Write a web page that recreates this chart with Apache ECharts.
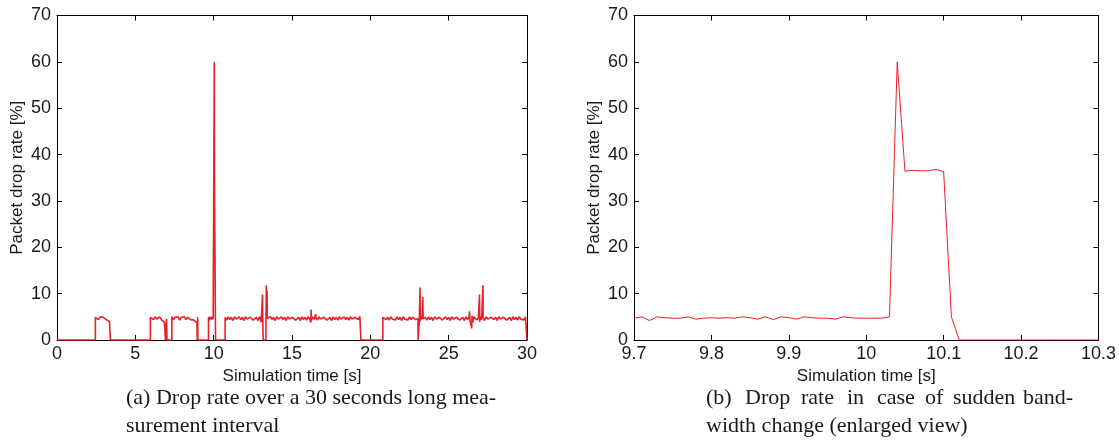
<!DOCTYPE html>
<html>
<head>
<meta charset="utf-8">
<script src="https://cdn.jsdelivr.net/npm/echarts@6/dist/echarts.min.js"></script>
<style>
  html, body { margin: 0; padding: 0; background: #fff; }
  #main { width: 1119px; height: 448px; }
</style>
</head>
<body>
<div id="main"></div>
<script>
// ---- data ----
const STEP = 0.1;          // sample spacing of the long run (s)
const ZOOM_STEP = 0.01;    // sample spacing of the enlarged view (s)

// start time of every "on" stretch of the long run
const bandStart = [2.45, 5.96, 7.33, 9.67, 10.73, 20.80];
// time the stretch falls back to 0 (null: handled by the enlarged view samples)
const bandFall = [3.41, 6.92, 8.95, null, 19.40, 30.0];
const bandRate = [
  [4.9, 5.0, 4.4, 5.0, 4.6, 4.9, 5.0, 4.4, 4.7, 4.0],
  [4.9, 5.0, 4.4, 5.0, 4.5, 4.9, 5.0, 4.4, 4.8, 3.8],
  [5.0, 4.4, 4.9, 4.5, 5.0, 4.3, 4.9, 4.6, 5.0, 4.4, 4.9, 5.0, 4.4, 4.8, 4.3, 4.2, 3.7],
  [4.9],
  [4.9, 4.3, 5.0, 4.4, 4.9, 4.2, 5.0, 4.5, 4.3, 5.0,
   4.4, 4.9, 4.2, 5.0, 4.5, 4.3, 4.9, 5.0, 4.3, 4.6,
   4.9, 4.2, 5.0, 3.9, 4.7, 0, 0, 4.9, 4.3, 5.0,
   4.4, 4.9, 4.2, 5.0, 4.5, 4.3, 5.0, 4.4, 4.9, 4.2,
   5.0, 4.5, 4.3, 4.9, 5.0, 4.3, 4.6, 4.9, 4.2, 5.0,
   4.4, 4.9, 4.3, 5.0, 4.5, 4.2, 5.0, 4.4, 4.9, 4.3,
   5.0, 4.5, 4.2, 4.9, 5.0, 4.3, 4.6, 4.9, 4.2, 5.0,
   4.4, 4.9, 4.3, 5.0, 4.5, 4.2, 5.0, 4.4, 4.9, 4.3,
   5.0, 4.5, 4.3, 4.9, 5.0, 4.4, 5.1],
  [4.9, 5.0, 4.4, 4.9, 4.3, 5.0, 4.5, 4.9, 4.3, 5.0,
   4.4, 4.9, 4.2, 5.0, 4.5, 4.9, 4.3, 5.0, 4.4, 4.9,
   4.5, 4.4, 4.3, 0, 5.0, 4.5, 4.2, 4.9, 4.3, 5.0,
   4.4, 4.9, 4.2, 5.0, 4.5, 4.3, 4.9, 5.0, 4.3, 4.6,
   5.0, 4.4, 4.9, 4.2, 5.0, 4.5, 4.3, 4.9, 5.0, 4.3,
   4.6, 4.9, 4.2, 5.0, 4.4, 4.9, 4.0, 4.5, 5.0, 4.6,
   4.3, 4.9, 5.0, 4.4, 4.9, 4.2, 5.0, 4.5, 4.3, 4.9,
   5.0, 4.4, 4.9, 4.2, 5.0, 4.5, 4.3, 4.9, 5.0, 4.3,
   4.6, 4.9, 4.2, 5.0, 4.4, 4.9, 4.3, 5.0, 4.5, 4.9,
   4.3, 5.0, 4.8]
];
// short glitches and spikes of the long run [time, rate]
const spikes = [
  [6.98, 0], [6.99, 4.6], [7.01, 4.4], [7.02, 0],
  [8.97, 0], [8.98, 4.9], [8.99, 0],
  [10.08, 36.7],
  [13.10, 3.5], [13.12, 9.8], [13.14, 4.5], [13.16, 0],
  [13.35, 0], [13.36, 11.8], [13.38, 4.4], [13.41, 10.6], [13.42, 4.7],
  [16.20, 3.8], [16.22, 6.6], [16.25, 4.2], [16.51, 5.6],
  [23.04, 4.6], [23.05, 0], [23.12, 0], [23.13, 4.4],
  [23.17, 11.3], [23.19, 4.0], [23.35, 9.3], [23.37, 4.6],
  [26.33, 6.2], [26.36, 4.2], [26.47, 2.5], [26.49, 5.2], [26.55, 3.8],
  [26.96, 4.6], [26.97, 9.8], [26.98, 3.9],
  [27.18, 4.5], [27.19, 11.8], [27.21, 4.6]
];

// enlarged view, 9.70 s .. 10.30 s
const zoomStart = 9.70;
const zoomRate = [
  4.7, 5.0, 4.2, 5.0, 4.8, 4.7, 4.7, 5.0, 4.5, 4.7,
  4.8, 4.7, 4.8, 4.7, 5.0, 4.8, 4.5, 5.0, 4.4, 5.0,
  4.8, 4.5, 5.0, 4.8, 4.7, 4.7, 4.5, 5.0, 4.8, 4.7,
  4.7, 4.7, 4.7, 5.0, 60, 36.4, 36.6, 36.5, 36.5, 36.8,
  36.3, 5.0, 0, 0, 0, 0, 0, 0, 0, 0,
  0, 0, 0, 0, 0, 0, 0, 0, 0, 0, 0
];

const yTicks = [0, 70, 10];
const xTicksA = [0, 30, 5];
const xTicksB = [9.7, 10.3, 0.1];

const captionA = ['(a) Drop rate over a 30 seconds long mea-', 'surement interval'];
const captionB1 = ['(b)', 'Drop', 'rate', 'in', 'case', 'of', 'sudden', 'band-'];
const captionB2 = 'width change (enlarged view)';

// ---- build series ----
const zoomData = zoomRate.map((v, i) => [+(zoomStart + i * ZOOM_STEP).toFixed(2), v]);

let longData = [[0, 0]];
bandStart.forEach((t0, i) => {
  longData.push([t0, 0]);
  bandRate[i].forEach((v, k) => longData.push([+(t0 + k * STEP).toFixed(2), v]));
  if (bandFall[i] !== null) longData.push([bandFall[i], 0]);
});
longData = longData.concat(spikes, zoomData);
longData.sort((a, b) => a[0] - b[0]);

const RED = '#e8202a';
const FONT = 'Liberation Sans';
const INK = '#1a1a1a';

function xAxes(grid, ticks, withName) {
  const base = {
    type: 'value', gridIndex: grid, min: ticks[0], max: ticks[1], interval: ticks[2],
    splitLine: { show: false },
    axisLine: { onZero: false, lineStyle: { color: '#000', width: 1 } },
    axisTick: { inside: true, length: 5, lineStyle: { color: '#000' } }
  };
  return [
    Object.assign({}, base, {
      position: 'bottom',
      name: withName, nameLocation: 'middle', nameGap: 27,
      nameTextStyle: { fontFamily: FONT, fontSize: 17, color: INK },
      axisLabel: { fontFamily: FONT, fontSize: 18, color: INK, margin: 5 }
    }),
    Object.assign({}, base, { position: 'top', axisLabel: { show: false } })
  ];
}

function yAxes(grid) {
  const base = {
    type: 'value', gridIndex: grid, min: yTicks[0], max: yTicks[1], interval: yTicks[2],
    splitLine: { show: false },
    axisLine: { onZero: false, lineStyle: { color: '#000', width: 1 } },
    axisTick: { inside: true, length: 5, lineStyle: { color: '#000' } }
  };
  return [
    Object.assign({}, base, {
      position: 'left',
      name: 'Packet drop rate [%]', nameLocation: 'middle', nameGap: 31,
      nameTextStyle: { fontFamily: FONT, fontSize: 17, color: INK },
      axisLabel: { fontFamily: FONT, fontSize: 18, color: INK, margin: 6 }
    }),
    Object.assign({}, base, { position: 'right', axisLabel: { show: false } })
  ];
}

function captionText(x, y, str) {
  return {
    type: 'text', left: x, top: y,
    style: { text: str, fontFamily: 'Liberation Serif', fontSize: 22, fill: INK }
  };
}

// word positions of the justified first line of caption (b)
const captionB1x = [706, 745, 801, 847, 877, 925, 953, 1023];

const chart = echarts.init(document.getElementById('main'), null, { renderer: 'canvas' });
chart.setOption({
  animation: false,
  backgroundColor: '#fff',
  grid: [
    { left: 57, top: 15.5, width: 470, height: 324.5 },
    { left: 634, top: 15.5, width: 466, height: 324.5 }
  ],
  xAxis: xAxes(0, xTicksA, 'Simulation time [s]').concat(xAxes(1, xTicksB, 'Simulation time [s]')),
  yAxis: yAxes(0).concat(yAxes(1)),
  series: [
    {
      type: 'line', xAxisIndex: 0, yAxisIndex: 0, data: longData,
      showSymbol: false, lineStyle: { color: RED, width: 1.6 }, silent: true
    },
    {
      type: 'line', xAxisIndex: 2, yAxisIndex: 2, data: zoomData,
      showSymbol: false, lineStyle: { color: RED, width: 1 }, silent: true
    }
  ],
  graphic: [
    captionText(126, 387, captionA[0]),
    captionText(126, 415, captionA[1]),
    captionText(706, 415, captionB2)
  ].concat(captionB1.map((w, i) => captionText(captionB1x[i], 387, w)))
});
</script>
</body>
</html>
